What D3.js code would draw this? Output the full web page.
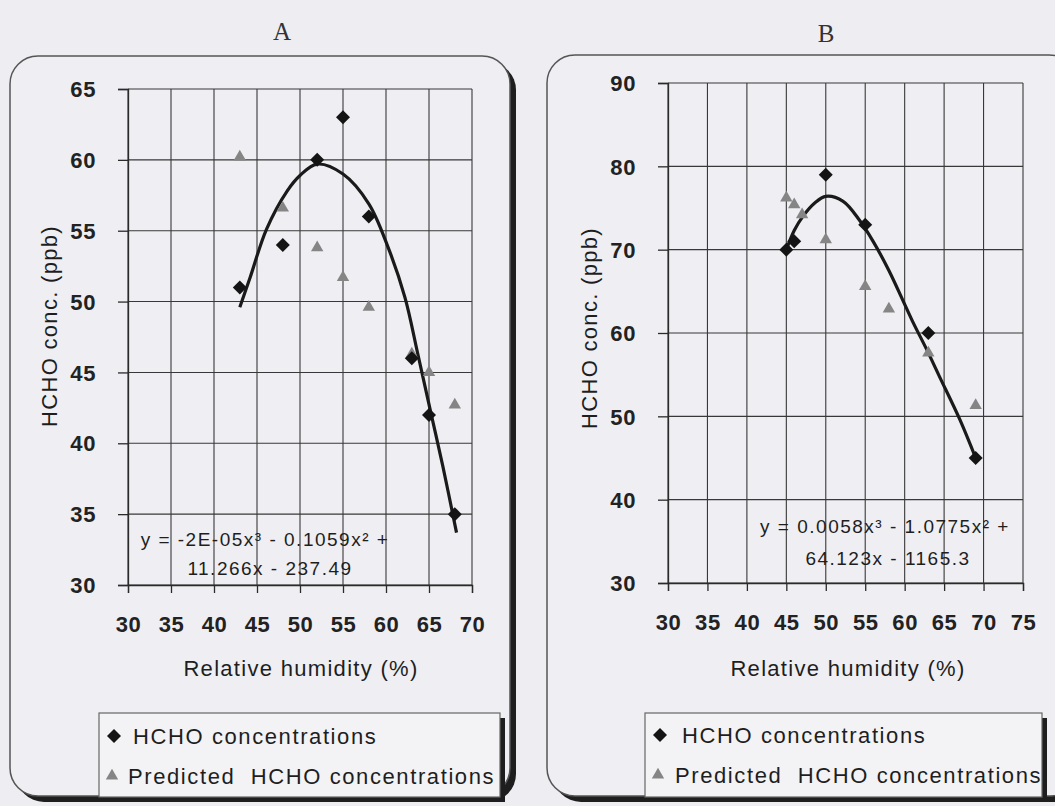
<!DOCTYPE html>
<html>
<head>
<meta charset="utf-8">
<script src="https://cdn.jsdelivr.net/npm/d3@7/dist/d3.min.js"></script>
<style>
  body { margin: 0; background: #eeeef2; }
  svg { display: block; font-family: "Liberation Sans", Arial, sans-serif; }
  .grid-line { stroke: #383838; stroke-width: 1.1; }
  .tick-label { font-size: 22px; font-weight: bold; fill: #222; letter-spacing: 0.6px; }
  .axis-title { font-size: 22px; fill: #1e1e1e; letter-spacing: 1.3px; }
  .eq-text { font-size: 19px; fill: #1e1e1e; letter-spacing: 1.5px; }
  .legend-text { font-size: 22px; fill: #1e1e1e; letter-spacing: 1.6px; }
  .panel-title { font-family: "Liberation Serif", "Times New Roman", serif; font-size: 25px; fill: #333; }
</style>
</head>
<body>
<div id="wrapper"></div>
<script>
// data

// panel A
const rhA = [43, 48, 52, 55, 58, 63, 65, 68];
const hchoA = [51, 54, 60, 63, 56, 46, 42, 35];
const predA = [60.2, 56.6, 53.8, 51.7, 49.6, 46.3, 45, 42.7];
const trendRhA = [43, 44.2, 46.1, 48.5, 50, 52, 55, 58, 60.2, 62.2, 63.7, 65.2, 66.6, 68.2];
const trendA = [49.6, 51.7, 55.1, 57.8, 58.9, 59.7, 59.0, 56.9, 53.9, 50.3, 46.3, 42.2, 38.4, 33.7];
const xTicksA = [30, 35, 40, 45, 50, 55, 60, 65, 70];
const yTicksA = [30, 35, 40, 45, 50, 55, 60, 65];
const eqA = ["y = -2E-05x\u00b3 - 0.1059x\u00b2 +", "11.266x - 237.49"];

// panel B
const rhB = [45, 46, 50, 55, 63, 69];
const hchoB = [70, 71, 79, 73, 60, 45];
const rhPredB = [45, 46, 47, 50, 55, 58, 63, 69];
const predB = [76.2, 75.4, 74.2, 71.2, 65.6, 62.9, 57.6, 51.3];
const trendRhB = [45, 46, 47.1, 48.6, 50, 52.2, 54.3, 56, 58, 61, 62.8, 64.4, 67, 69];
const trendB = [70, 72.3, 74, 75.6, 76.4, 75.8, 73.5, 71, 67.5, 61.4, 58, 54.8, 49.6, 45];
const xTicksB = [30, 35, 40, 45, 50, 55, 60, 65, 70, 75];
const yTicksB = [30, 40, 50, 60, 70, 80, 90];
const eqB = ["y = 0.0058x\u00b3 - 1.0775x\u00b2 +", "64.123x - 1165.3"];

const xTitle = "Relative humidity (%)";
const yTitle = "HCHO conc. (ppb)";
const legendLabels = ["HCHO concentrations", "Predicted  HCHO concentrations"];

function drawCharts() {

    // 1. Canvas
    const width = 1055;
    const height = 806;

    const svg = d3.select("#wrapper")
        .append("svg")
        .attr("width", width)
        .attr("height", height)

    svg.append("rect")
        .attr("width", width)
        .attr("height", height)
        .attr("fill", "#eeeef2")

    const diamond = d3.symbol().type(d3.symbolDiamond2).size(125)
    const triangle = d3.symbol().type(d3.symbolTriangle2).size(110)

    // 2. One panel = frame + grid + axes + points + trend + legend
    const drawPanel = (p) => {
        const g = svg.append("g")

        // frame with dark shadow on right/bottom
        g.append("rect")
            .attr("x", p.frame.x + 6).attr("y", p.frame.y + 6)
            .attr("width", p.frame.w).attr("height", p.frame.h)
            .attr("rx", 28)
            .attr("fill", "#1e1e1e")
        g.append("rect")
            .attr("x", p.frame.x).attr("y", p.frame.y)
            .attr("width", p.frame.w).attr("height", p.frame.h)
            .attr("rx", 28)
            .attr("fill", "#efeff3")
            .attr("stroke", "#555")
            .attr("stroke-width", 1.5)

        g.append("text")
            .attr("class", "panel-title")
            .attr("x", p.title.x).attr("y", p.title.y)
            .attr("text-anchor", "middle")
            .text(p.title.text)

        // scales
        const x = d3.scaleLinear().domain(p.xDomain).range([p.plot.left, p.plot.right])
        const y = d3.scaleLinear().domain(p.yDomain).range([p.plot.bottom, p.plot.top])

        // grid
        const grid = g.append("g")
        grid.selectAll(".h-grid")
            .data(p.yTicks)
            .join("line")
            .attr("class", "grid-line")
            .attr("x1", p.plot.left).attr("x2", p.plot.right)
            .attr("y1", d => y(d)).attr("y2", d => y(d))
        grid.selectAll(".v-grid")
            .data(p.xTicks)
            .join("line")
            .attr("class", "grid-line")
            .attr("x1", d => x(d)).attr("x2", d => x(d))
            .attr("y1", p.plot.top).attr("y2", p.plot.bottom)

        // axes
        const yAxis = g.append("g")
            .attr("transform", `translate(${p.plot.left},0)`)
            .call(d3.axisLeft(y).tickValues(p.yTicks).tickSize(10).tickPadding(22))
        const xAxis = g.append("g")
            .attr("transform", `translate(0,${p.plot.bottom})`)
            .call(d3.axisBottom(x).tickValues(p.xTicks).tickSize(8).tickPadding(0))

        ;[yAxis, xAxis].forEach(ax => {
            ax.select(".domain").attr("stroke", "#2a2a2a").attr("stroke-width", 1.3)
            ax.selectAll(".tick line").attr("stroke", "#2a2a2a").attr("stroke-width", 1.3)
            ax.selectAll(".tick text")
                .attr("class", "tick-label")
                .attr("font-size", null)
                .attr("font-family", null)
        })
        yAxis.selectAll(".tick text").attr("dy", "0.35em")
        xAxis.selectAll(".tick text")
            .attr("y", p.xLabelBaseline - p.plot.bottom)
            .attr("dy", 0)

        // trend line
        const lineGenerator = d3.line()
            .x(d => x(d[0]))
            .y(d => y(d[1]))
            .curve(d3.curveCatmullRom.alpha(0.5))

        g.append("path")
            .datum(p.trendX.map((v, i) => [v, p.trendY[i]]))
            .attr("d", lineGenerator)
            .attr("fill", "none")
            .attr("stroke", "#1a1a1a")
            .attr("stroke-width", 3.2)

        // predicted (triangles) then measured (diamonds)
        g.append("g").selectAll("path")
            .data(p.predX.map((v, i) => [v, p.predY[i]]))
            .join("path")
            .attr("d", triangle)
            .attr("transform", d => `translate(${x(d[0])},${y(d[1])})`)
            .attr("fill", "#858585")
        g.append("g").selectAll("path")
            .data(p.measX.map((v, i) => [v, p.measY[i]]))
            .join("path")
            .attr("d", diamond)
            .attr("transform", d => `translate(${x(d[0])},${y(d[1])})`)
            .attr("fill", "#141414")

        // equation
        p.eq.forEach((line, i) => {
            g.append("text")
                .attr("class", "eq-text")
                .attr("x", p.eqPos[i][0]).attr("y", p.eqPos[i][1])
                .attr("text-anchor", "middle")
                .text(line)
        })

        // axis titles
        g.append("text")
            .attr("class", "axis-title")
            .attr("x", p.xTitle[0]).attr("y", p.xTitle[1])
            .attr("text-anchor", "middle")
            .text(xTitle)
        g.append("text")
            .attr("class", "axis-title")
            .attr("transform", `translate(${p.yTitle[0]},${p.yTitle[1]}) rotate(-90)`)
            .attr("text-anchor", "middle")
            .text(yTitle)

        // legend
        const lg = g.append("g").attr("transform", `translate(${p.legend.x},${p.legend.y})`)
        lg.append("rect")
            .attr("x", 5).attr("y", 5)
            .attr("width", p.legend.w).attr("height", p.legend.h)
            .attr("fill", "#1e1e1e")
        lg.append("rect")
            .attr("width", p.legend.w).attr("height", p.legend.h)
            .attr("fill", "#f3f3f6")
            .attr("stroke", "#666")
            .attr("stroke-width", 1.2)
        lg.append("path")
            .attr("d", diamond)
            .attr("transform", `translate(15,${p.legend.rows[0]})`)
            .attr("fill", "#141414")
        lg.append("path")
            .attr("d", triangle)
            .attr("transform", `translate(13,${p.legend.rows[1]})`)
            .attr("fill", "#858585")
        legendLabels.forEach((label, i) => {
            lg.append("text")
                .attr("class", "legend-text")
                .attr("x", p.legend.textX[i])
                .attr("y", p.legend.rows[i] + 8)
                .style("white-space", "pre")
                .text(label)
        })
    }

    // 3. Panels
    drawPanel({
        title: { text: "A", x: 282, y: 40 },
        frame: { x: 10, y: 56, w: 500, h: 740 },
        plot: { left: 128, right: 472, top: 89, bottom: 585 },
        xDomain: [30, 70], yDomain: [30, 65],
        xTicks: xTicksA, yTicks: yTicksA,
        xLabelBaseline: 632,
        measX: rhA, measY: hchoA,
        predX: rhA, predY: predA,
        trendX: trendRhA, trendY: trendA,
        eq: eqA, eqPos: [[265, 546], [270, 575]],
        xTitle: [301, 676],
        yTitle: [57, 326],
        legend: { x: 99, y: 713, w: 401, h: 84, rows: [23, 63], textX: [34, 29] },
    })

    drawPanel({
        title: { text: "B", x: 826, y: 42 },
        frame: { x: 547, y: 55, w: 530, h: 741 },
        plot: { left: 668, right: 1023, top: 83, bottom: 583 },
        xDomain: [30, 75], yDomain: [30, 90],
        xTicks: xTicksB, yTicks: yTicksB,
        xLabelBaseline: 630,
        measX: rhB, measY: hchoB,
        predX: rhPredB, predY: predB,
        trendX: trendRhB, trendY: trendB,
        eq: eqB, eqPos: [[885, 533], [888, 565]],
        xTitle: [848, 676],
        yTitle: [597, 328],
        legend: { x: 645, y: 713, w: 397, h: 84, rows: [22, 62], textX: [37, 30] },
    })
}

drawCharts();
</script>
</body>
</html>
